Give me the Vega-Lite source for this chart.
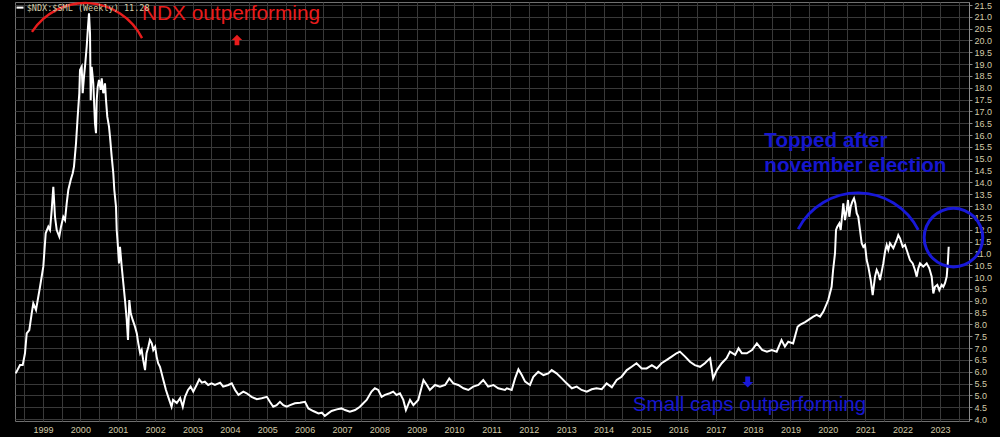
{
  "$schema": "https://vega.github.io/schema/vega-lite/v6.json",
  "width": 954,
  "height": 419,
  "autosize": {"type": "none"},
  "padding": {"left": 15, "top": 2, "right": 31, "bottom": 16},
  "background": "#000000",
  "config": {
    "view": {"stroke": "#707070", "fill": "#000000"},
    "axis": {"labelFont": "Liberation Sans", "labelFontSize": 9, "labelColor": "#d2cba8", "gridColor": "#393939", "gridWidth": 1, "title": null}
  },
  "encoding": {
    "x": {
      "field": "t", "type": "quantitative",
      "scale": {"domain": [1998.2508, 2023.776], "nice": false, "zero": false},
      "axis": {
        "orient": "bottom",
        "values": [1998.5,1999,1999.5,2000,2000.5,2001,2001.5,2002,2002.5,2003,2003.5,2004,2004.5,2005,2005.5,2006,2006.5,2007,2007.5,2008,2008.5,2009,2009.5,2010,2010.5,2011,2011.5,2012,2012.5,2013,2013.5,2014,2014.5,2015,2015.5,2016,2016.5,2017,2017.5,2018,2018.5,2019,2019.5,2020,2020.5,2021,2021.5,2022,2022.5,2023,2023.5],
        "labelExpr": "datum.value % 1 === 0 ? format(datum.value, 'd') : ''",
        "labelOverlap": false, "labelFlush": false,
        "ticks": false, "domain": false, "grid": true, "labelPadding": 4
      }
    },
    "y": {
      "field": "v", "type": "quantitative",
      "scale": {"domain": [3.918, 21.627], "nice": false, "zero": false},
      "axis": {
        "orient": "right",
        "values": [4,4.5,5,5.5,6,6.5,7,7.5,8,8.5,9,9.5,10,10.5,11,11.5,12,12.5,13,13.5,14,14.5,15,15.5,16,16.5,17,17.5,18,18.5,19,19.5,20,20.5,21,21.5],
        "format": ".1f", "labelOverlap": false, "labelFlush": false,
        "tickSize": 3, "tickColor": "#8a8a8a", "domainColor": "#8a8a8a", "grid": true, "labelPadding": 2
      }
    }
  },
  "layer": [
    {
      "data": {"values": [
        {"t":1998.270,"v":5.93},{"t":1998.385,"v":6.28},{"t":1998.457,"v":6.28},{"t":1998.518,"v":6.78},{"t":1998.564,"v":7.62},{"t":1998.633,"v":7.76},{"t":1998.698,"v":8.47},{"t":1998.740,"v":8.89},{"t":1998.813,"v":8.61},{"t":1998.874,"v":9.17},{"t":1998.920,"v":9.59},
        {"t":1999.008,"v":10.44},{"t":1999.072,"v":11.85},{"t":1999.142,"v":12.13},{"t":1999.187,"v":11.99},{"t":1999.233,"v":12.84},{"t":1999.276,"v":13.82},{"t":1999.321,"v":12.55},{"t":1999.367,"v":11.99},{"t":1999.436,"v":11.71},{"t":1999.482,"v":12.13},{"t":1999.543,"v":12.55},{"t":1999.589,"v":12.41},{"t":1999.634,"v":13.12},{"t":1999.677,"v":13.68},{"t":1999.741,"v":14.10},{"t":1999.795,"v":14.39},{"t":1999.829,"v":14.67},{"t":1999.883,"v":15.65},{"t":1999.928,"v":16.78},{"t":1999.971,"v":17.77},{"t":1999.990,"v":18.75},
        {"t":2000.035,"v":18.89},{"t":2000.062,"v":17.77},{"t":2000.097,"v":18.47},{"t":2000.132,"v":19.04},{"t":2000.169,"v":19.74},{"t":2000.204,"v":20.58},{"t":2000.231,"v":21.15},{"t":2000.258,"v":20.30},{"t":2000.276,"v":17.48},{"t":2000.303,"v":18.89},{"t":2000.346,"v":18.19},{"t":2000.391,"v":16.50},{"t":2000.418,"v":16.08},{"t":2000.437,"v":17.48},{"t":2000.464,"v":18.05},{"t":2000.498,"v":18.33},{"t":2000.544,"v":17.91},{"t":2000.571,"v":18.40},{"t":2000.613,"v":17.77},{"t":2000.659,"v":18.19},{"t":2000.686,"v":17.48},{"t":2000.720,"v":16.78},{"t":2000.766,"v":16.36},{"t":2000.793,"v":15.93},{"t":2000.838,"v":15.09},{"t":2000.881,"v":14.39},{"t":2000.908,"v":13.68},{"t":2000.953,"v":12.98},{"t":2000.972,"v":11.99},{"t":2000.999,"v":11.43},
        {"t":2001.033,"v":10.58},{"t":2001.060,"v":11.28},{"t":2001.106,"v":10.44},{"t":2001.149,"v":9.74},{"t":2001.194,"v":9.03},{"t":2001.240,"v":8.19},{"t":2001.274,"v":7.34},{"t":2001.309,"v":9.03},{"t":2001.347,"v":8.47},{"t":2001.400,"v":8.19},{"t":2001.462,"v":7.90},{"t":2001.51,"v":7.62},{"t":2001.55,"v":7.20},{"t":2001.60,"v":6.78},{"t":2001.64,"v":6.92},{"t":2001.68,"v":6.50},{"t":2001.73,"v":6.07},{"t":2001.77,"v":6.78},{"t":2001.82,"v":7.06},{"t":2001.86,"v":7.34},{"t":2001.91,"v":7.20},{"t":2001.95,"v":6.92},
        {"t":2002.00,"v":7.06},{"t":2002.04,"v":6.64},{"t":2002.08,"v":6.36},{"t":2002.13,"v":6.21},{"t":2002.22,"v":5.65},{"t":2002.29,"v":5.23},{"t":2002.35,"v":4.94},{"t":2002.44,"v":4.52},{"t":2002.48,"v":4.81},{"t":2002.58,"v":4.68},{"t":2002.67,"v":4.89},{"t":2002.74,"v":4.52},{"t":2002.80,"v":4.94},{"t":2002.88,"v":5.23},{"t":2002.95,"v":5.37},
        {"t":2003.02,"v":5.16},{"t":2003.11,"v":5.44},{"t":2003.18,"v":5.68},{"t":2003.25,"v":5.54},{"t":2003.33,"v":5.58},{"t":2003.42,"v":5.44},{"t":2003.51,"v":5.51},{"t":2003.60,"v":5.44},{"t":2003.74,"v":5.54},{"t":2003.82,"v":5.37},{"t":2003.96,"v":5.44},
        {"t":2004.05,"v":5.51},{"t":2004.14,"v":5.23},{"t":2004.23,"v":5.02},{"t":2004.36,"v":5.16},{"t":2004.45,"v":5.09},{"t":2004.58,"v":4.94},{"t":2004.72,"v":4.84},{"t":2004.85,"v":4.88},{"t":2004.99,"v":4.94},
        {"t":2005.07,"v":4.73},{"t":2005.16,"v":4.52},{"t":2005.25,"v":4.59},{"t":2005.34,"v":4.73},{"t":2005.43,"v":4.59},{"t":2005.52,"v":4.52},{"t":2005.61,"v":4.59},{"t":2005.74,"v":4.67},{"t":2005.88,"v":4.69},
        {"t":2006.01,"v":4.73},{"t":2006.10,"v":4.45},{"t":2006.23,"v":4.34},{"t":2006.37,"v":4.24},{"t":2006.46,"v":4.27},{"t":2006.54,"v":4.13},{"t":2006.63,"v":4.24},{"t":2006.72,"v":4.34},{"t":2006.86,"v":4.41},{"t":2006.99,"v":4.45},
        {"t":2007.08,"v":4.38},{"t":2007.21,"v":4.31},{"t":2007.35,"v":4.38},{"t":2007.48,"v":4.52},{"t":2007.57,"v":4.67},{"t":2007.66,"v":4.81},{"t":2007.79,"v":5.16},{"t":2007.88,"v":5.30},{"t":2007.97,"v":5.23},
        {"t":2008.06,"v":4.94},{"t":2008.15,"v":5.02},{"t":2008.28,"v":5.09},{"t":2008.37,"v":5.16},{"t":2008.46,"v":5.02},{"t":2008.55,"v":5.09},{"t":2008.64,"v":4.81},{"t":2008.71,"v":4.38},{"t":2008.82,"v":4.81},{"t":2008.91,"v":4.59},
        {"t":2009.04,"v":4.81},{"t":2009.18,"v":5.65},{"t":2009.27,"v":5.44},{"t":2009.35,"v":5.23},{"t":2009.49,"v":5.44},{"t":2009.62,"v":5.37},{"t":2009.76,"v":5.44},{"t":2009.87,"v":5.72},{"t":2009.98,"v":5.51},
        {"t":2010.11,"v":5.44},{"t":2010.25,"v":5.30},{"t":2010.38,"v":5.23},{"t":2010.51,"v":5.37},{"t":2010.65,"v":5.44},{"t":2010.78,"v":5.65},{"t":2010.91,"v":5.37},
        {"t":2011.05,"v":5.44},{"t":2011.18,"v":5.30},{"t":2011.36,"v":5.23},{"t":2011.41,"v":5.30},{"t":2011.54,"v":5.23},{"t":2011.63,"v":5.72},{"t":2011.72,"v":6.10},{"t":2011.81,"v":5.86},{"t":2011.90,"v":5.58},
        {"t":2012.03,"v":5.44},{"t":2012.12,"v":5.79},{"t":2012.25,"v":6.00},{"t":2012.39,"v":5.86},{"t":2012.52,"v":5.93},{"t":2012.61,"v":6.07},{"t":2012.74,"v":5.93},{"t":2012.88,"v":5.72},
        {"t":2013.01,"v":5.51},{"t":2013.15,"v":5.30},{"t":2013.28,"v":5.37},{"t":2013.41,"v":5.23},{"t":2013.55,"v":5.16},{"t":2013.68,"v":5.26},{"t":2013.81,"v":5.30},{"t":2013.95,"v":5.26},
        {"t":2014.08,"v":5.51},{"t":2014.22,"v":5.34},{"t":2014.35,"v":5.65},{"t":2014.48,"v":5.79},{"t":2014.62,"v":6.07},{"t":2014.75,"v":6.21},{"t":2014.88,"v":6.36},
        {"t":2015.02,"v":6.14},{"t":2015.15,"v":6.14},{"t":2015.29,"v":6.28},{"t":2015.42,"v":6.14},{"t":2015.55,"v":6.36},{"t":2015.69,"v":6.50},{"t":2015.82,"v":6.64},{"t":2015.95,"v":6.78},
        {"t":2016.04,"v":6.85},{"t":2016.18,"v":6.64},{"t":2016.31,"v":6.42},{"t":2016.44,"v":6.28},{"t":2016.58,"v":6.21},{"t":2016.71,"v":6.36},{"t":2016.80,"v":6.50},{"t":2016.85,"v":6.57},{"t":2016.93,"v":5.72},
        {"t":2017.03,"v":6.07},{"t":2017.16,"v":6.36},{"t":2017.29,"v":6.57},{"t":2017.38,"v":6.85},{"t":2017.52,"v":6.71},{"t":2017.61,"v":6.99},{"t":2017.70,"v":6.78},{"t":2017.83,"v":6.78},{"t":2017.97,"v":6.92},
        {"t":2018.10,"v":7.20},{"t":2018.24,"v":6.92},{"t":2018.37,"v":6.85},{"t":2018.50,"v":6.92},{"t":2018.63,"v":6.85},{"t":2018.76,"v":7.34},{"t":2018.85,"v":7.06},{"t":2018.94,"v":7.27},
        {"t":2019.07,"v":7.20},{"t":2019.19,"v":7.90},{"t":2019.25,"v":7.98},{"t":2019.39,"v":8.10},{"t":2019.48,"v":8.19},{"t":2019.61,"v":8.33},{"t":2019.70,"v":8.40},{"t":2019.79,"v":8.33},{"t":2019.88,"v":8.54},
        {"t":2020.01,"v":9.03},{"t":2020.10,"v":9.59},{"t":2020.14,"v":10.30},{"t":2020.191,"v":11.01},{"t":2020.218,"v":11.99},{"t":2020.252,"v":12.13},{"t":2020.306,"v":12.27},{"t":2020.343,"v":11.99},{"t":2020.378,"v":12.55},{"t":2020.413,"v":13.12},{"t":2020.458,"v":12.41},{"t":2020.504,"v":12.84},{"t":2020.539,"v":13.26},{"t":2020.573,"v":12.55},{"t":2020.611,"v":12.98},{"t":2020.654,"v":13.19},{"t":2020.699,"v":13.33},{"t":2020.734,"v":13.12},{"t":2020.771,"v":12.70},{"t":2020.814,"v":12.55},{"t":2020.860,"v":11.99},{"t":2020.905,"v":11.43},{"t":2020.948,"v":11.28},{"t":2020.993,"v":11.36},
        {"t":2021.039,"v":10.72},{"t":2021.082,"v":10.44},{"t":2021.146,"v":9.88},{"t":2021.199,"v":9.24},{"t":2021.261,"v":10.02},{"t":2021.306,"v":10.30},{"t":2021.349,"v":10.16},{"t":2021.395,"v":9.88},{"t":2021.440,"v":10.23},{"t":2021.483,"v":10.58},{"t":2021.529,"v":11.07},{"t":2021.574,"v":11.36},{"t":2021.617,"v":11.15},{"t":2021.662,"v":11.43},{"t":2021.751,"v":11.22},{"t":2021.842,"v":11.57},{"t":2021.884,"v":11.78},{"t":2021.930,"v":11.64},
        {"t":2022.002,"v":11.28},{"t":2022.064,"v":11.36},{"t":2022.125,"v":11.07},{"t":2022.197,"v":10.72},{"t":2022.270,"v":10.58},{"t":2022.331,"v":10.30},{"t":2022.377,"v":10.02},{"t":2022.419,"v":10.37},{"t":2022.465,"v":10.58},{"t":2022.553,"v":10.44},{"t":2022.644,"v":10.58},{"t":2022.714,"v":10.37},{"t":2022.778,"v":10.02},{"t":2022.821,"v":9.31},{"t":2022.866,"v":9.59},{"t":2022.928,"v":9.67},{"t":2022.982,"v":9.45},
        {"t":2023.046,"v":9.67},{"t":2023.089,"v":9.59},{"t":2023.134,"v":9.74},{"t":2023.180,"v":10.02},{"t":2023.214,"v":10.72},{"t":2023.233,"v":11.28}
      ]},
      "mark": {"type": "line", "color": "#ffffff", "strokeWidth": 2}
    },
    {
      "data": {"values": [{"t": 2000.13, "v": 18.90}]},
      "mark": {"type": "arc", "theta": -0.995, "theta2": 1.107, "innerRadius": 62.3, "outerRadius": 64.7, "color": "#e81c1c"}
    },
    {
      "data": {"values": [{"t": 2020.806, "v": 10.70}]},
      "mark": {"type": "arc", "theta": -1.086, "theta2": 1.10, "innerRadius": 66.2, "outerRadius": 69.0, "color": "#1818d8"}
    },
    {
      "data": {"values": [{"t": 2023.36, "v": 11.67}]},
      "mark": {"type": "arc", "theta": 0, "theta2": 6.2832, "innerRadius": 27.8, "outerRadius": 30.8, "color": "#1818d8"}
    },
    {
      "data": {"values": [{"t": 2004.19, "v": 20.02}]},
      "mark": {"type": "point", "shape": "M0,-1L1,0L0.45,0L0.45,1L-0.45,1L-0.45,0L-1,0Z", "size": 110, "filled": true, "opacity": 1, "color": "#e81c1c"}
    },
    {
      "data": {"values": [{"t": 2017.855, "v": 5.57}]},
      "mark": {"type": "point", "shape": "M0,1L1,0L0.45,0L0.45,-1L-0.45,-1L-0.45,0L-1,0Z", "size": 120, "filled": true, "opacity": 1, "color": "#1818d8"}
    },
    {
      "data": {"values": [{"t": 2001.65, "v": 20.87, "label": "NDX outperforming"}]},
      "mark": {"type": "text", "align": "left", "baseline": "alphabetic", "font": "Liberation Sans", "fontSize": 20.8, "color": "#e81c1c"},
      "encoding": {"text": {"field": "label"}}
    },
    {
      "data": {"values": [{"t": 2014.78, "v": 4.34, "label": "Small caps outperforming"}]},
      "mark": {"type": "text", "align": "left", "baseline": "alphabetic", "font": "Liberation Sans", "fontSize": 20.6, "color": "#1616d0"},
      "encoding": {"text": {"field": "label"}}
    },
    {
      "data": {"values": [{"t": 2018.30, "v": 15.50, "label": "Topped after"}, {"t": 2018.30, "v": 14.45, "label": "november election"}]},
      "mark": {"type": "text", "align": "left", "baseline": "alphabetic", "font": "Liberation Sans", "fontSize": 20.6, "fontWeight": "bold", "color": "#1616d0"},
      "encoding": {"text": {"field": "label"}}
    },
    {
      "data": {"values": [{"t": 1998.385, "v": 21.39}]},
      "mark": {"type": "point", "shape": "M-1,-0.3L1,-0.3L1,0.3L-1,0.3Z", "size": 49, "filled": true, "opacity": 1, "color": "#ffffff"}
    },
    {
      "data": {"values": [{"t": 1998.564, "v": 21.39, "label": "$NDX:$SML (Weekly) 11.28"}]},
      "mark": {"type": "text", "align": "left", "baseline": "middle", "font": "DejaVu Sans Mono", "fontSize": 8.5, "color": "#d2cba8"},
      "encoding": {"text": {"field": "label"}}
    }
  ]
}
